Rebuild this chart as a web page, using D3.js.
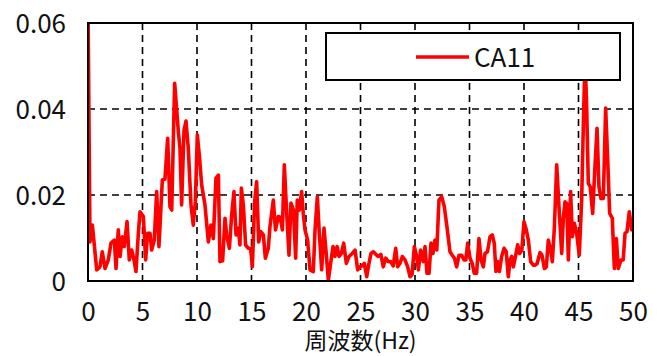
<!DOCTYPE html>
<html>
<head>
<meta charset="utf-8">
<script src="https://cdn.jsdelivr.net/npm/d3@7"></script>
<style>
  body { margin: 0; background: #fff; }
  text { font-family: "Noto Sans CJK JP", "Noto Sans", sans-serif; fill: #111; }
</style>
</head>
<body>
<div class="chart"></div>
<script>
var svgWidth = 662;
var svgHeight = 356;

var margin = { top: 23, right: 29, bottom: 75, left: 88 };
var width = svgWidth - margin.left - margin.right;
var height = svgHeight - margin.top - margin.bottom;

// spectrum (Hz / amplitude)
var freq = [
  0, 0.18, 0.40, 0.80, 1.10, 1.31, 1.56, 1.86, 2.11, 2.42, 2.57, 2.78, 2.94, 3.15, 3.33, 3.58, 3.79, 4.01, 4.22, 4.40,
  4.62, 4.77, 5.08, 5.29, 5.47, 5.69, 5.84, 6.08, 6.30, 6.51, 6.82, 7.06, 7.31, 7.52, 7.68, 7.95, 8.29, 8.44, 8.59, 8.81,
  8.99, 9.20, 9.45, 9.66, 9.85, 10.03, 10.21, 10.43, 10.73, 11.04, 11.28, 11.50, 11.74, 11.96, 12.11, 12.35, 12.57, 12.72, 12.97, 13.18,
  13.39, 13.58, 13.79, 13.94, 14.07, 14.25, 14.46, 14.71, 14.92, 15.08, 15.29, 15.47, 15.66, 15.84, 16.09, 16.27, 16.54, 16.70, 17.00, 17.20,
  17.46, 17.65, 17.83, 18.01, 18.23, 18.44, 18.62, 18.85, 19.05, 19.20, 19.39, 19.60, 19.75, 19.91, 20.15, 20.37, 20.67, 20.83, 21.04, 21.22,
  21.44, 21.65, 21.83, 22.05, 22.26, 22.48, 22.66, 22.85, 23.03, 23.25, 23.46, 23.70, 23.94, 24.25, 24.50, 24.74, 24.95, 25.15, 25.35, 25.57,
  25.77, 25.96, 26.18, 26.40, 26.64, 26.87, 27.09, 27.31, 27.55, 27.77, 28.00, 28.23, 28.41, 28.62, 28.84, 29.08, 29.33, 29.54, 29.73, 29.94,
  30.15, 30.31, 30.52, 30.76, 30.92, 31.10, 31.29, 31.47, 31.65, 31.83, 32.00, 32.20, 32.45, 32.69, 32.91, 33.21, 33.42, 33.62, 33.82, 34.04,
  34.27, 34.50, 34.67, 34.83, 35.05, 35.25, 35.44, 35.65, 35.87, 36.06, 36.27, 36.42, 36.65, 36.88, 37.09, 37.27, 37.43, 37.58, 37.74, 37.95,
  38.17, 38.37, 38.56, 38.72, 38.87, 39.02, 39.22, 39.42, 39.60, 39.80, 40.00, 40.21, 40.40, 40.61, 40.85, 41.00, 41.20, 41.47, 41.65, 41.87,
  42.05, 42.23, 42.42, 42.60, 42.79, 43.00, 43.21, 43.46, 43.61, 43.76, 43.92, 44.07, 44.28, 44.43, 44.62, 44.83, 45.07, 45.29, 45.44, 45.60,
  45.75, 45.90, 46.08, 46.30, 46.51, 46.70, 46.88, 47.06, 47.28, 47.49, 47.68, 47.86, 48.10, 48.29, 48.47, 48.65, 48.90, 49.10, 49.27, 49.45,
  49.66, 49.88, 50.00
];
var amp = [
  0.065, 0.0091, 0.0130, 0.0026, 0.0033, 0.0068, 0.0029, 0.0049, 0.0088, 0.0095, 0.0029, 0.0119, 0.0057, 0.0103, 0.0080, 0.0138, 0.0049, 0.0072, 0.0049, 0.0022,
  0.0111, 0.0161, 0.0150, 0.0049, 0.0111, 0.0111, 0.0072, 0.0095, 0.0208, 0.0080, 0.0235, 0.0237, 0.0332, 0.0173, 0.0165, 0.0460, 0.0347, 0.0309, 0.0177, 0.0351,
  0.0372, 0.0309, 0.0177, 0.0130, 0.0184, 0.0340, 0.0293, 0.0223, 0.0177, 0.0091, 0.0130, 0.0099, 0.0239, 0.0246, 0.0045, 0.0047, 0.0146, 0.0107, 0.0076, 0.0153,
  0.0208, 0.0107, 0.0123, 0.0084, 0.0216, 0.0177, 0.0084, 0.0076, 0.0076, 0.0033, 0.0184, 0.0231, 0.0091, 0.0115, 0.0107, 0.0053, 0.0076, 0.0128, 0.0188, 0.0119,
  0.0150, 0.0148, 0.0119, 0.0270, 0.0157, 0.0060, 0.0181, 0.0165, 0.0053, 0.0188, 0.0165, 0.0208, 0.0157, 0.0119, 0.0095, 0.0026, 0.0022, 0.0119, 0.0196, 0.0111,
  0.0026, 0.0123, 0.0072, 0.0002, 0.0041, 0.0080, 0.0057, 0.0080, 0.0057, 0.0064, 0.0088, 0.0041, 0.0057, 0.0064, 0.0072, 0.0026, 0.0033, 0.0035, 0.0041, 0.0010,
  0.0040, 0.0064, 0.0068, 0.0062, 0.0057, 0.0062, 0.0033, 0.0053, 0.0045, 0.0045, 0.0035, 0.0076, 0.0033, 0.0041, 0.0057, 0.0049, 0.0033, 0.0010, 0.0015, 0.0080,
  0.0057, 0.0026, 0.0072, 0.0045, 0.0080, 0.0018, 0.0018, 0.0088, 0.0064, 0.0095, 0.0072, 0.0188, 0.0196, 0.0173, 0.0130, 0.0068, 0.0060, 0.0053, 0.0033, 0.0060,
  0.0060, 0.0049, 0.0049, 0.0088, 0.0053, 0.0041, 0.0018, 0.0018, 0.0099, 0.0049, 0.0033, 0.0064, 0.0068, 0.0103, 0.0107, 0.0088, 0.0022, 0.0045, 0.0022, 0.0057,
  0.0076, 0.0068, 0.0010, 0.0049, 0.0057, 0.0033, 0.0057, 0.0084, 0.0064, 0.0072, 0.0138, 0.0119, 0.0095, 0.0045, 0.0037, 0.0037, 0.0040, 0.0066, 0.0060, 0.0029,
  0.0033, 0.0095, 0.0075, 0.0045, 0.0126, 0.0270, 0.0173, 0.0064, 0.0146, 0.0184, 0.0180, 0.0049, 0.0208, 0.0103, 0.0134, 0.0111, 0.0060, 0.0188, 0.0359, 0.0520,
  0.0405, 0.0227, 0.0219, 0.0157, 0.0266, 0.0355, 0.0219, 0.0192, 0.0192, 0.0402, 0.0281, 0.0157, 0.0146, 0.0029, 0.0099, 0.0029, 0.0049, 0.0049, 0.0111, 0.0115,
  0.0161, 0.0119, 0.0126
];

var xTicks = [0, 5, 10, 15, 20, 25, 30, 35, 40, 45, 50];
var yTicks = [0, 0.02, 0.04, 0.06];
var yLabels = ["0", "0.02", "0.04", "0.06"];
var seriesName = "CA11";
var xTitle = "周波数(Hz)";

var data = freq.map(function(f, i) { return { f: f, a: amp[i] }; });

var svg = d3.select(".chart")
  .append("svg")
  .attr("width", svgWidth)
  .attr("height", svgHeight);

var chartGroup = svg.append("g")
  .attr("transform", `translate(${margin.left}, ${margin.top})`);

var x = d3.scaleLinear().domain([0, 50]).range([0, width]);
var y = d3.scaleLinear().domain([0, 0.06]).range([height, 0]);

chartGroup.append("defs").append("clipPath")
  .attr("id", "clip")
  .append("rect")
  .attr("width", width)
  .attr("height", height);

// dashed grid
chartGroup.append("g")
  .selectAll("line")
  .data(xTicks.slice(1, -1))
  .enter().append("line")
  .attr("x1", d => x(d)).attr("x2", d => x(d))
  .attr("y1", 0).attr("y2", height)
  .attr("stroke", "#000")
  .attr("stroke-width", 1.6)
  .attr("stroke-dasharray", "7,5");

chartGroup.append("g")
  .selectAll("line")
  .data(yTicks.slice(1, -1))
  .enter().append("line")
  .attr("x1", 0).attr("x2", width)
  .attr("y1", d => y(d)).attr("y2", d => y(d))
  .attr("stroke", "#000")
  .attr("stroke-width", 1.6)
  .attr("stroke-dasharray", "7,5");

// the spectrum line
var line = d3.line()
  .x(d => x(d.f))
  .y(d => y(d.a));

chartGroup.append("path")
  .datum(data)
  .attr("clip-path", "url(#clip)")
  .attr("fill", "none")
  .attr("stroke", "#ff0000")
  .attr("stroke-width", 3.6)
  .attr("stroke-linejoin", "round")
  .attr("d", line);

// frame
chartGroup.append("rect")
  .attr("width", width)
  .attr("height", height)
  .attr("fill", "none")
  .attr("stroke", "#000")
  .attr("stroke-width", 2);

// axes (labels only)
var xAxis = chartGroup.append("g")
  .attr("transform", "translate(0," + height + ")")
  .call(d3.axisBottom(x).tickValues(xTicks).tickSize(0).tickPadding(0));
xAxis.select(".domain").remove();
xAxis.selectAll("text")
  .attr("y", 40)
  .attr("dy", null)
  .style("font-size", "26px")
  .style("font-family", "'Noto Sans CJK JP', sans-serif");

var yAxis = chartGroup.append("g")
  .call(d3.axisLeft(y).tickValues(yTicks).tickSize(0).tickFormat((d, i) => yLabels[i]));
yAxis.select(".domain").remove();
yAxis.selectAll("text")
  .attr("x", -22)
  .attr("dy", "0.36em")
  .style("font-size", "26px")
  .style("font-family", "'Noto Sans CJK JP', sans-serif");

svg.append("text")
  .attr("text-anchor", "middle")
  .attr("x", margin.left + width / 2)
  .attr("y", 349)
  .style("font-size", "23px")
  .text(xTitle);

// legend on top of the line
var legend = svg.append("g");
legend.append("rect")
  .attr("x", 326).attr("y", 33)
  .attr("width", 294).attr("height", 47)
  .attr("fill", "#fff")
  .attr("stroke", "#000")
  .attr("stroke-width", 2);
legend.append("line")
  .attr("x1", 416).attr("x2", 469)
  .attr("y1", 57).attr("y2", 57)
  .attr("stroke", "#ff0000")
  .attr("stroke-width", 3.6);
legend.append("text")
  .attr("x", 474).attr("y", 66.5)
  .style("font-size", "26px")
  .text(seriesName);
</script>
</body>
</html>
